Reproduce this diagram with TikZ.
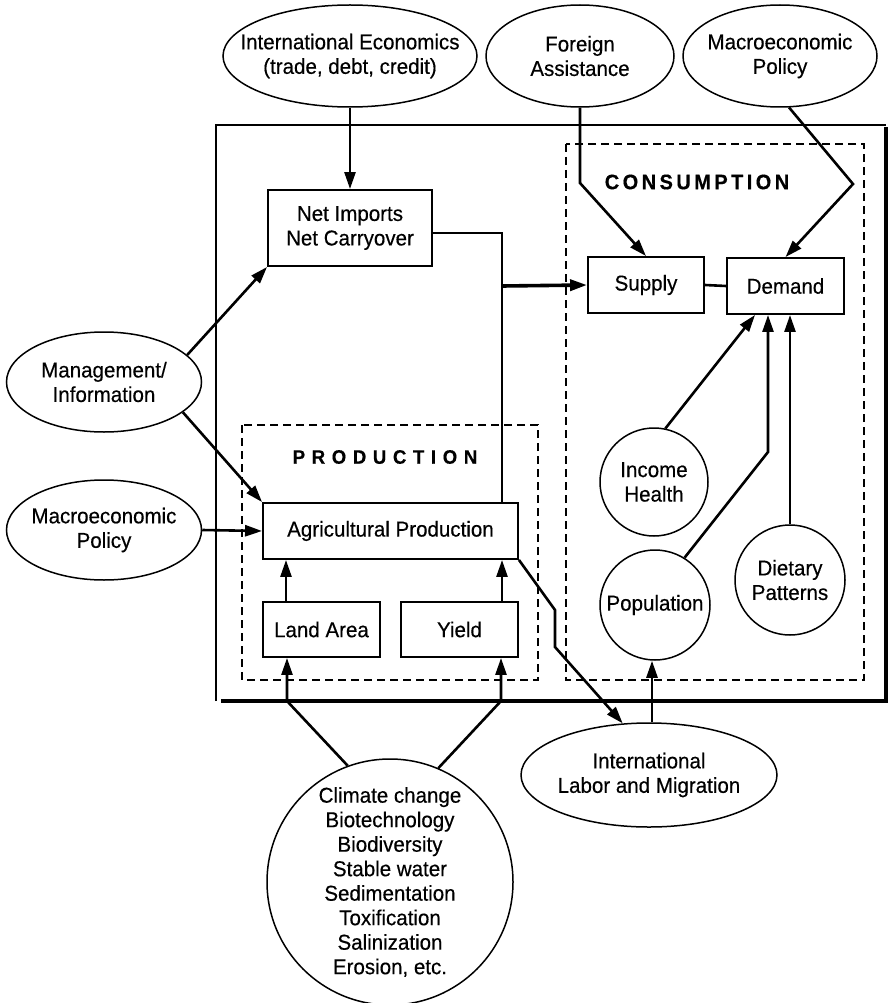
\documentclass[tikz,border=0pt]{standalone}
\usepackage{fontspec}
\setmainfont{Liberation Sans}[FakeBold=0.4,FakeStretch=0.955]
\usetikzlibrary{shapes.geometric,arrows.meta}
% letter-spaced headings
\newcommand\gapC{\kern3.4pt}
\newcommand\gapP{\kern6.6pt}
\begin{document}
\begin{tikzpicture}[x=1pt,y=-1pt,
  txt/.style={font=\fontsize{21.5}{24.5}\selectfont},
  lbl/.style={txt,align=center,inner sep=0pt},
  oval/.style 2 args={draw,ellipse,line width=1.5pt,inner sep=0pt,
    minimum width=#1,minimum height=#2},
  ring/.style={draw,circle,line width=1.5pt,inner sep=0pt,minimum size=#1},
  boxnode/.style 2 args={draw,rectangle,line width=1.9pt,inner sep=0pt,
    minimum width=#1,minimum height=#2,txt,align=center},
  frame/.style={line width=2.3pt,dash pattern=on 8pt off 5pt},
  link/.style={line width=2.6pt,line join=miter},
  arr/.style={link,-{Triangle[length=17pt,width=11pt]}},
  heavyarr/.style={line width=3.6pt,-{Triangle[length=17pt,width=11pt]}},
  head/.style={inner sep=0pt,font=\bfseries\fontsize{21}{24}\selectfont}
]
\useasboundingbox (0,0) rectangle (889,1003);

% outer system boundary with drop shadow
\draw[line width=1.6pt] (216,701) -- (216,125) -- (886,125);
\draw[line width=4.8pt] (221,701) -- (886,701) -- (886,127);

% sub-system frames
\draw[frame] (242,425) rectangle (538,680);
\draw[frame] (566,144) rectangle (864,680);
\node[head] (conslbl) at (697,182) {C\gapC O\gapC N\gapC S\gapC U\gapC M\gapC P\gapC T\gapC I\gapC O\gapC N};
\node[head,font=\bfseries\fontsize{19.5}{24}\selectfont] (prodlbl) at (385,457) {P\gapP R\gapP O\gapP D\gapP U\gapP C\gapP T\gapP I\gapP O\gapP N};

% external drivers
\node[oval={254}{102},label={[lbl]center:{International Economics\\(trade, debt, credit)}}] (ie) at (350,56) {};
\node[oval={188}{102},label={[lbl]center:{Foreign\\Assistance}}] (fa) at (580,56) {};
\node[oval={194}{102},label={[lbl]center:{Macroeconomic\\Policy}}] (mpa) at (780,56) {};
\node[oval={195}{100},label={[lbl]center:{Management/\\Information}}] (mgmt) at (104,382) {};
\node[oval={195}{100},label={[lbl]center:{Macroeconomic\\Policy}}] (mpb) at (104,530) {};
\node[oval={256}{104},label={[lbl]center:{International\\Labor and Migration}}] (labor) at (649,775) {};
\node[ring=246,label={[lbl]center:{Climate change\\Biotechnology\\Biodiversity\\Stable water\\Sedimentation\\Toxification\\Salinization\\Erosion, etc.}}] (clim) at (390,882) {};

% consumption side
\node[ring=108,label={[lbl]center:{Income\\Health}}] (inc) at (654,482) {};
\node[ring=110,label={[lbl]center:{Population}}] (pop) at (655,605) {};
\node[ring=110,label={[lbl]center:{Dietary\\Patterns}}] (diet) at (790,580) {};
\node[boxnode={116}{56}] (sup) at (646,285) {Supply};
\node[boxnode={117}{56}] (dem) at (785.5,286) {Demand};

% production side
\node[boxnode={164}{76}] (net) at (350,228) {Net Imports\\Net Carryover};
\node[boxnode={255}{56}] (agri) at (390.5,531) {Agricultural Production};
\node[boxnode={117}{55}] (land) at (321.5,629.5) {Land Area};
\node[boxnode={117}{55}] (yld) at (459.5,629.5) {Yield};

% routing points
\coordinate (nj) at (502,233);
\coordinate (nb) at (502,286);
\coordinate (fbend) at (580,183);
\coordinate (mbend) at (853,184);
\coordinate (la) at (286,0);
\coordinate (cl1) at (287,701);
\coordinate (cl2) at (501,701);
\coordinate (lb1) at (555,610);
\coordinate (lb2) at (555,647);
\coordinate (pl) at (652,0);
\coordinate (d1) at (755,0);
\coordinate (d2) at (768,0);
\coordinate (pbend) at (768,452);

% connectors
\draw[arr] (ie.south) -- (net.north);
\draw[arr] (fa.south) -- (fbend) -- (sup.north);
\draw[arr] (mpa.-80) -- (mbend) -- (dem.north);
\draw[link] (agri.north -| nj) -- (nj) -- (net.east |- nj);
\draw[heavyarr] (nb) -- (sup.west);
\draw[link] (sup.east) -- (dem.west);
\draw[arr] (mgmt.18) -- (net.south west);
\draw[arr] (mgmt.-21) -- (agri.north west);
\draw[arr] (mpb.east) -- (agri.west);
\draw[arr] (land.north -| la) -- (agri.south -| la);
\draw[arr] (yld.north -| nj) -- (agri.south -| nj);
\draw[arr] (clim.110) -- (cl1) -- (land.south -| cl1);
\draw[arr] (clim.67) -- (cl2) -- (yld.south -| cl2);
\draw[arr] (agri.south east) -- (lb1) -- (lb2) -- (labor.117);
\draw[arr] (labor.north -| pl) -- (pop.south -| pl);
\draw[arr] (inc.78) -- (dem.south -| d1);
\draw[arr] (pop.58) -- (pbend) -- (dem.south -| d2);
\draw[arr] (diet.north) -- (dem.south -| diet.north);
\end{tikzpicture}
\end{document}
